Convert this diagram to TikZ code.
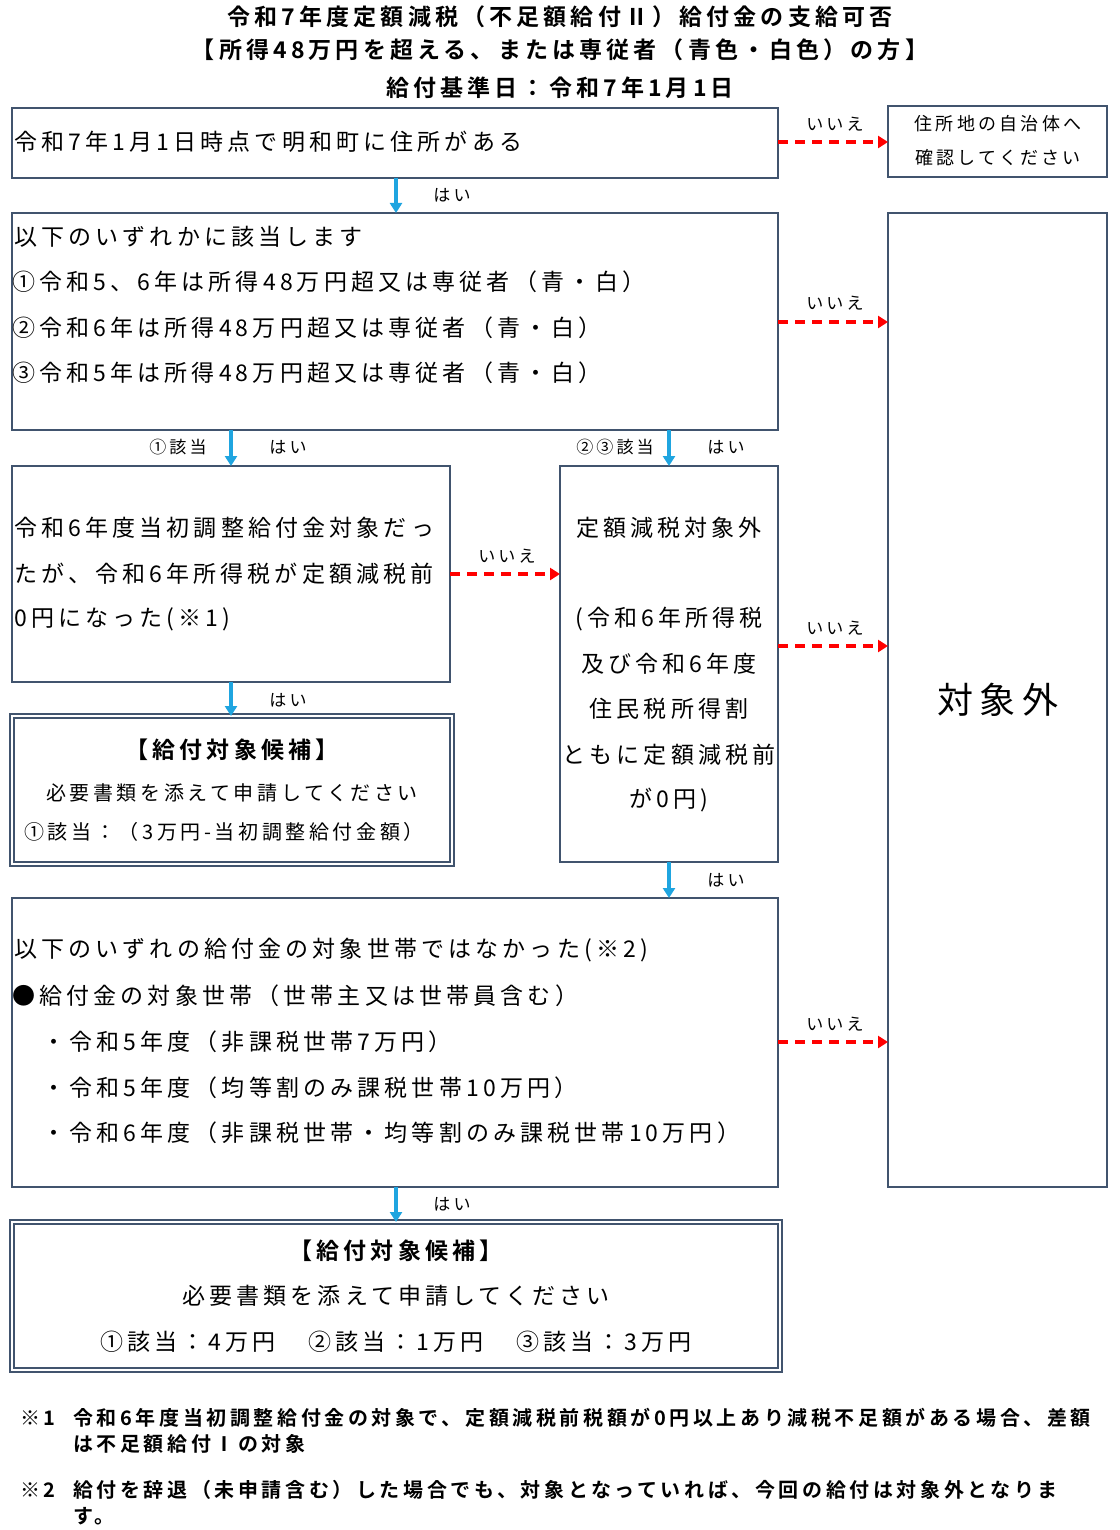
\documentclass[tikz,border=0pt]{standalone}
\usepackage{fontspec}
\setmainfont{Noto Sans CJK JP}[LetterSpace=18]
\newfontfamily\jpb{Noto Sans CJK JP Bold}[LetterSpace=18]
\usetikzlibrary{arrows.meta}
\definecolor{bord}{HTML}{41546E}
\definecolor{arrb}{HTML}{1FA5E0}
\tikzset{
 box/.style={draw=bord,line width=1.8pt},
 dbox/.style={draw=bord,double=white,double distance=2.5pt,line width=1.5pt},
 yes/.style={draw=arrb,line width=3.5pt,-{Triangle[length=10pt,width=12pt]}},
 no/.style={draw=red,line width=3.5pt,dash pattern=on 10pt off 7pt,-{Triangle[length=10pt,width=12pt]}},
 lab/.style={font=\fontsize{17}{17}\selectfont,inner sep=0pt},
 tx/.style={font=\fontsize{23}{23}\selectfont,inner sep=0pt,anchor=west},
 ct/.style={font=\fontsize{23}{23}\selectfont,inner sep=0pt},
 ttl/.style={font=\jpb\fontsize{23}{23}\selectfont,inner sep=0pt},
 fn/.style={font=\jpb\fontsize{20}{20}\selectfont,inner sep=0pt,anchor=west},
}
\begin{document}
\begin{tikzpicture}[x=1pt,y=-1pt]
\useasboundingbox (0,0) rectangle (1119,1530);
\node[ttl] (t1) at (560,17) {令和7年度定額減税（不足額給付Ⅱ）給付金の支給可否};
\node[ttl] (t2) at (560,50) {【所得48万円を超える、または専従者（青色・白色）の方】};
\node[ttl] (t3) at (560,88) {給付基準日：令和7年1月1日};
% boxes
\draw[box] (12,108) rectangle (778,178);
\node[tx] (b1t) at (14,142) {令和7年1月1日時点で明和町に住所がある};
\draw[box] (888,106) rectangle (1107,177);
\node[ct,font=\fontsize{18}{18}\selectfont] (r1a) at (998,124) {住所地の自治体へ};
\node[ct,font=\fontsize{18}{18}\selectfont] (r1b) at (998,158) {確認してください};
\draw[box] (12,213) rectangle (778,430);
\node[tx] (b2a) at (14,237) {以下のいずれかに該当します};
\node[tx] (b2b) at (12,282) {①令和5、6年は所得48万円超又は専従者（青・白）};
\node[tx] (b2c) at (12,328) {②令和6年は所得48万円超又は専従者（青・白）};
\node[tx] (b2d) at (12,373) {③令和5年は所得48万円超又は専従者（青・白）};
\draw[box] (888,213) rectangle (1107,1187);
\node[ct,font=\fontsize{36}{36}\selectfont] (out) at (998,700) {対象外};
\draw[box] (12,466) rectangle (450,682);
\node[tx] at (14,528) {令和6年度当初調整給付金対象だっ};
\node[tx] at (14,574) {たが、令和6年所得税が定額減税前};
\node[tx] at (14,619) {0円になった(※1)};
\draw[box] (560,466) rectangle (778,862);
\foreach \y/\t in {528/定額減税対象外,619/(令和6年所得税,664/及び令和6年度,709/住民税所得割,755/ともに定額減税前,800/が0円)}
  \node[ct] at (669,\y) {\t};
\draw[dbox] (12,716) rectangle (452,864);
\node[ttl] at (232,750) {【給付対象候補】};
\node[ct,font=\fontsize{20}{20}\selectfont] at (232,793) {必要書類を添えて申請してください};
\node[ct,font=\fontsize{20}{20}\selectfont] at (224,832) {①該当：（3万円-当初調整給付金額）};
\draw[box] (12,898) rectangle (778,1187);
\node[tx] at (14,950) {以下のいずれの給付金の対象世帯ではなかった(※2)};
\node[tx] at (12,996) {●給付金の対象世帯（世帯主又は世帯員含む）};
\node[tx] at (42,1042) {・令和5年度（非課税世帯7万円）};
\node[tx] at (42,1088) {・令和5年度（均等割のみ課税世帯10万円）};
\node[tx] at (42,1133) {・令和6年度（非課税世帯・均等割のみ課税世帯10万円）};
\draw[dbox] (12,1222) rectangle (780,1370);
\node[ttl] at (396,1251) {【給付対象候補】};
\node[ct] at (396,1296) {必要書類を添えて申請してください};
\node[ct] at (396,1342) {①該当：4万円\quad\ ②該当：1万円\quad\ ③該当：3万円};
% arrows
\coordinate (a1) at (778,142); \coordinate (a1e) at (888,142);
\draw[no] (a1) -- (a1e); \node[lab] at (835,124) {いいえ};
\coordinate (a2) at (778,322); \coordinate (a2e) at (888,322);
\draw[no] (a2) -- (a2e); \node[lab] at (835,303) {いいえ};
\coordinate (a3) at (450,574); \coordinate (a3e) at (560,574);
\draw[no] (a3) -- (a3e); \node[lab] at (507,556) {いいえ};
\coordinate (a4) at (778,646); \coordinate (a4e) at (888,646);
\draw[no] (a4) -- (a4e); \node[lab] at (835,628) {いいえ};
\coordinate (a5) at (778,1042); \coordinate (a5e) at (888,1042);
\draw[no] (a5) -- (a5e); \node[lab] at (835,1024) {いいえ};
\coordinate (y1) at (396,178); \coordinate (y1e) at (396,213);
\draw[yes] (y1) -- (y1e); \node[lab] at (452,195) {はい};
\coordinate (y2) at (231,430); \coordinate (y2e) at (231,466);
\draw[yes] (y2) -- (y2e); \node[lab] at (178,447) {①該当}; \node[lab] at (288,447) {はい};
\coordinate (y3) at (669,430); \coordinate (y3e) at (669,466);
\draw[yes] (y3) -- (y3e); \node[lab] at (615,447) {②③該当}; \node[lab] at (726,447) {はい};
\coordinate (y4) at (231,682); \coordinate (y4e) at (231,716);
\draw[yes] (y4) -- (y4e); \node[lab] at (288,700) {はい};
\coordinate (y5) at (669,862); \coordinate (y5e) at (669,898);
\draw[yes] (y5) -- (y5e); \node[lab] at (726,880) {はい};
\coordinate (y6) at (396,1187); \coordinate (y6e) at (396,1222);
\draw[yes] (y6) -- (y6e); \node[lab] at (452,1204) {はい};
% footnotes
\node[fn] at (20,1418) {※1};
\node[fn] at (73,1418) {令和6年度当初調整給付金の対象で、定額減税前税額が0円以上あり減税不足額がある場合、差額};
\node[fn] at (73,1444) {は不足額給付Ⅰの対象};
\node[fn] at (20,1490) {※2};
\node[fn] at (73,1490) {給付を辞退（未申請含む）した場合でも、対象となっていれば、今回の給付は対象外となりま};
\node[fn] at (73,1516) {す。};
\end{tikzpicture}
\end{document}
